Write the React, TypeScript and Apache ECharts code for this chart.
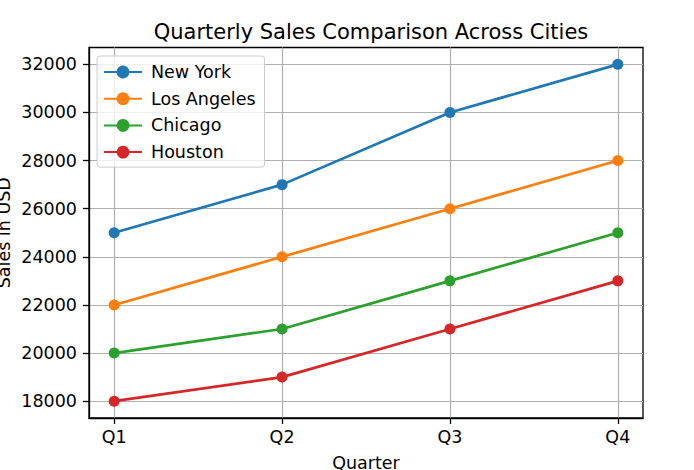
import React, { useEffect, useRef } from "react";
import * as echarts from "echarts";

const quarters = ["Q1", "Q2", "Q3", "Q4"];
const newYork = [25000, 27000, 30000, 32000];
const losAngeles = [22000, 24000, 26000, 28000];
const chicago = [20000, 21000, 23000, 25000];
const houston = [18000, 19000, 21000, 23000];
const yTicks = [18000, 20000, 22000, 24000, 26000, 28000, 30000, 32000];

const FONT = "DejaVu Sans";
const COLORS = ["#1f77b4", "#ff7f0e", "#2ca02c", "#d62728"];
const FS = 17.5;

export default function App() {
  const ref = useRef<HTMLDivElement>(null);

  useEffect(() => {
    if (!ref.current) return;
    const chart = echarts.init(ref.current, undefined, { renderer: "svg" });

    const cities: [string, number[]][] = [
      ["New York", newYork],
      ["Los Angeles", losAngeles],
      ["Chicago", chicago],
      ["Houston", houston],
    ];
    const xIdx = quarters.map((_, i) => i);

    chart.setOption({
      animation: false,
      color: COLORS,
      textStyle: { fontFamily: FONT },
      title: {
        text: "Quarterly Sales Comparison Across Cities",
        left: 366,
        textAlign: "center",
        top: 16,
        textStyle: { fontFamily: FONT, fontSize: 21, fontWeight: "normal", color: "#000" },
      },
      legend: {
        orient: "vertical",
        left: 97,
        top: 56,
        padding: [7, 9, 6, 6],
        itemGap: 8.7,
        itemWidth: 38,
        itemHeight: 16,
        backgroundColor: "rgba(255,255,255,0.8)",
        borderColor: "#cccccc",
        borderWidth: 1,
        borderRadius: 3,
        textStyle: { fontFamily: FONT, fontSize: FS, color: "#000", padding: [0, 0, 0, 4] },
        data: cities.map(([n]) => n),
      },
      grid: {
        left: 89,
        right: 51,
        top: 47.5,
        bottom: 52,
        outerBoundsMode: "none",
        containLabel: false,
        show: true,
        borderColor: "#000",
        borderWidth: 1.3,
        backgroundColor: "transparent",
      },
      xAxis: {
        type: "value",
        min: -0.15,
        max: 3.15,
        name: "Quarter",
        nameLocation: "middle",
        nameGap: 36,
        nameMoveOverlap: false,
        nameTextStyle: { fontFamily: FONT, fontSize: FS, color: "#000" },
        axisLine: { show: true, onZero: false, lineStyle: { color: "#000", width: 1.3 } },
        axisTick: { show: true, inside: false, length: 6, customValues: xIdx, lineStyle: { color: "#000", width: 1.3 } },
        axisLabel: {
          customValues: xIdx,
          margin: 10,
          fontFamily: FONT,
          fontSize: FS,
          color: "#000",
          formatter: (v: number) => quarters[Math.round(v)] ?? "",
        },
        splitLine: { show: true, lineStyle: { color: "#b0b0b0", width: 1.2 } },
      },
      yAxis: {
        type: "value",
        min: 17300,
        max: 32700,
        name: "Sales in USD",
        nameLocation: "middle",
        nameGap: 76,
        nameMoveOverlap: false,
        nameTextStyle: { fontFamily: FONT, fontSize: FS, color: "#000" },
        axisLine: { show: true, onZero: false, lineStyle: { color: "#000", width: 1.3 } },
        axisTick: { show: true, inside: false, length: 6, customValues: yTicks, lineStyle: { color: "#000", width: 1.3 } },
        axisLabel: {
          customValues: yTicks,
          margin: 12,
          fontFamily: FONT,
          fontSize: FS,
          color: "#000",
          formatter: (v: number) => String(v),
        },
        splitLine: { show: true, lineStyle: { color: "#b0b0b0", width: 1.2 } },
      },
      series: cities.map(([name, vals], k) => ({
        name,
        type: "line",
        data: vals.map((v, i) => [i, v]),
        symbol: "circle",
        symbolSize: 11,
        lineStyle: { width: 2.7, color: COLORS[k] },
        itemStyle: { color: COLORS[k] },
      })),
    });

    return () => chart.dispose();
  }, []);

  return <div ref={ref} style={{ width: 694, height: 470, position: "absolute", left: 0, top: 0 }} />;
}
